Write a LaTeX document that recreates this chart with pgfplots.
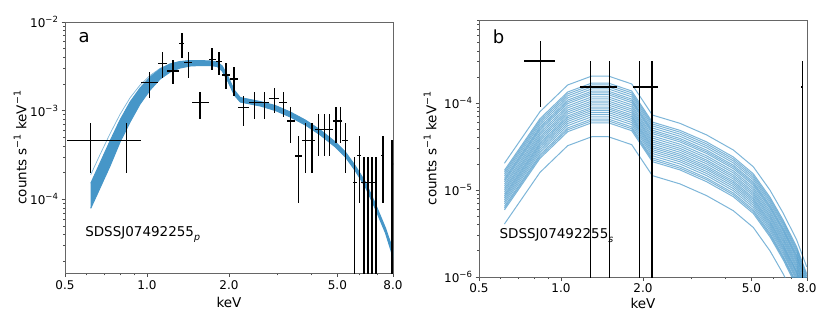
\documentclass[border=0pt]{standalone}
\usepackage{fontspec}
\setmainfont{DejaVu Sans}
\usepackage{pgfplots}
\usepackage{pgfplotstable}
\pgfplotsset{compat=1.18}
\definecolor{modelblue}{RGB}{70,150,200}

\newcommand{\supL}[1]{\raisebox{0.42em}{\fontsize{9.5}{10}\selectfont #1}}
\newcommand{\supT}[1]{\raisebox{0.42em}{\fontsize{8.5}{9}\selectfont #1}}
\newcommand{\subs}[1]{\raisebox{-0.25em}{\fontsize{9.5}{10}\selectfont\itshape #1}}

% panel a: spectrum points (x, y, x-, x+, y-, y+)
\pgfplotstableread{
x      y        xm     xp     ym        yp
0.6215 4.59e-4  0.113  0.1355 2.605e-4  2.68e-4
0.840  4.59e-4  0.083  0.111  2.605e-4  2.68e-4
1.0207 2.069e-3 0.0697 0.0753 0.689e-3  0.640e-3
1.1394 3.423e-3 0.0434 0.0463 1.105e-3  1.130e-3
1.2443 2.802e-3 0.0586 0.0683 0.818e-3  0.927e-3
1.3429 5.753e-3 0.0303 0.0299 1.794e-3  1.704e-3
1.4201 3.477e-3 0.0473 0.0489 1.159e-3  1.076e-3
1.568  1.231e-3 0.099  0.114  0.431e-3  0.406e-3
1.7305 3.797e-3 0.0485 0.0601 0.921e-3  1.255e-3
1.8366 3.568e-3 0.046  0.0472 1.042e-3  1.057e-3
1.9536 2.526e-3 0.0698 0.0673 0.770e-3  0.923e-3
2.0905 2.277e-3 0.0696 0.0675 0.813e-3  0.833e-3
2.2621 1.081e-3 0.1041 0.1117 0.409e-3  0.383e-3
2.4829 1.231e-3 0.1091 0.1226 0.431e-3  0.406e-3
2.702  1.231e-3 0.0965 0.110  0.431e-3  0.406e-3
2.934  1.366e-3 0.122  0.109  0.416e-3  0.450e-3
3.1655 1.231e-3 0.1225 0.1005 0.375e-3  0.406e-3
3.368  7.65e-4  0.102  0.116  3.36e-4   3.44e-4
3.594  3.086e-4 0.110  0.114  2.182e-4  2.104e-4
3.813  4.64e-4  0.105  0.131  2.67e-4   2.68e-4
4.036  4.64e-4  0.092  0.114  2.67e-4   2.68e-4
4.257  6.17e-4  0.107  0.136  3.084e-4  3.01e-4
4.479  6.17e-4  0.086  0.104  3.084e-4  3.01e-4
4.685  6.17e-4  0.102  0.12   3.084e-4  3.01e-4
4.945  7.65e-4  0.14   0.14   3.36e-4   3.28e-4
5.129  7.65e-4  0.044  0.088  3.36e-4   3.28e-4
5.351  4.64e-4  0.134  0.138  2.67e-4   2.63e-4
5.789  1.543e-4 0.097  0.134  1.533e-4  1.487e-4
6.024  3.11e-4  0.101  0.103  2.206e-4  2.08e-4
6.248  1.543e-4 0.121  0.107  1.533e-4  1.487e-4
6.463  1.543e-4 0.108  0.122  1.533e-4  1.487e-4
6.708  1.543e-4 0.123  0.103  1.533e-4  1.487e-4
6.916  1.543e-4 0.105  0.083  1.533e-4  1.487e-4
7.338  3.11e-4  0.111  0.107  2.206e-4  2.08e-4
7.95   2.51e-4  0.1    0.1    2.5e-4    2.16e-4
}\dataA

% panel a: model band outline, upper edge out and lower edge back
\pgfplotstableread{
x      y
0.6215 1.518e-4
0.6723 2.572e-4
0.7317 4.553e-4
0.7964 7.855e-4
0.8668 1.253e-3
0.9434 1.803e-3
1.0268 2.398e-3
1.1175 2.952e-3
1.2163 3.360e-3
1.3237 3.587e-3
1.4407 3.681e-3
1.568  3.681e-3
1.7066 3.634e-3
1.8107 3.539e-3
1.889  3.191e-3
1.9873 2.398e-3
2.0905 1.711e-3
2.1996 1.409e-3
2.3936 1.337e-3
2.6055 1.269e-3
2.9584 1.145e-3
3.3598 9.668e-4
3.813  7.855e-4
4.3298 6.057e-4
4.9161 4.437e-4
5.351  3.422e-4
5.824  2.379e-4
6.338  1.571e-4
6.898  8.875e-5
7.508  4.760e-5
8.0    2.689e-5
8.0    2.242e-5
7.508  4.179e-5
6.898  7.791e-5
6.338  1.380e-4
5.824  2.089e-4
5.351  3.006e-4
4.9161 3.897e-4
4.3298 5.320e-4
3.813  6.898e-4
3.3598 8.492e-4
2.9584 1.005e-3
2.6055 1.130e-3
2.3936 1.190e-3
2.1996 1.253e-3
2.0905 1.503e-3
1.9873 2.106e-3
1.889  2.802e-3
1.8107 3.150e-3
1.7066 3.232e-3
1.568  3.232e-3
1.4407 3.191e-3
1.3237 3.029e-3
1.2163 2.730e-3
1.1175 2.277e-3
1.0268 1.711e-3
0.9434 1.190e-3
0.8668 7.457e-4
0.7964 4.437e-4
0.7317 2.379e-4
0.6723 1.344e-4
0.6215 7.935e-5
}\bandA

\pgfplotstableread{
x      y
0.6215 1.9e-4
0.6723 3.2e-4
0.7317 5.5e-4
0.7964 9.1e-4
0.8668 1.4e-3
0.9434 1.95e-3
1.0268 2.5e-3
1.1175 3.0e-3
1.2163 3.38e-3
1.3237 3.6e-3
}\thinA

% panel b: spectrum points
\pgfplotstableread{
x      y       xm    xp    ym        yp
0.842  3.07e-4 0.111 0.109 2.17e-4   2.15e-4
1.2854 1.54e-4 0.111 0.105 1.539e-4  1.53e-4
1.5045 1.54e-4 0.114 0.105 1.539e-4  1.53e-4
1.945  1.54e-4 0.111 0.106 1.539e-4  1.53e-4
2.1582 1.54e-4 0.107 0.106 1.539e-4  1.53e-4
7.688  1.54e-4 0.06  0.06  1.539e-4  1.53e-4
}\dataB

% panel b: model curves
\pgfplotstableread{
x     l1      l2       l3       l4       l5       l6       l7       l8       l9       l10      l11      l12      l13
0.62  2.04e-5 1.693e-5 1.53e-5  1.367e-5 1.244e-5 1.112e-5 1.0e-5   8.98e-6  8.16e-6  7.34e-6  6.53e-6  5.92e-6  4.08e-6
0.837 8.00e-5 6.64e-5  6.00e-5  5.36e-5  4.88e-5  4.36e-5  3.92e-5  3.52e-5  3.20e-5  2.88e-5  2.56e-5  2.32e-5  1.60e-5
1.058 1.625e-4 1.349e-4 1.219e-4 1.089e-4 9.91e-5 8.86e-5  7.96e-5  7.15e-5  6.50e-5  5.85e-5  5.20e-5  4.71e-5  3.25e-5
1.297 2.06e-4 1.710e-4 1.545e-4 1.380e-4 1.257e-4 1.123e-4 1.009e-4 9.06e-5  8.24e-5  7.42e-5  6.59e-5  5.97e-5  4.12e-5
1.492 2.06e-4 1.710e-4 1.545e-4 1.380e-4 1.257e-4 1.123e-4 1.009e-4 9.06e-5  8.24e-5  7.42e-5  6.59e-5  5.97e-5  4.12e-5
1.818 1.67e-4 1.386e-4 1.253e-4 1.119e-4 1.019e-4 9.10e-5  8.18e-5  7.35e-5  6.68e-5  6.01e-5  5.34e-5  4.84e-5  3.34e-5
2.164 7.33e-5 6.08e-5  5.50e-5  4.91e-5  4.47e-5  3.99e-5  3.59e-5  3.23e-5  2.93e-5  2.64e-5  2.35e-5  2.13e-5  1.47e-5
2.734 5.88e-5 4.88e-5  4.41e-5  3.94e-5  3.59e-5  3.20e-5  2.88e-5  2.59e-5  2.35e-5  2.12e-5  1.88e-5  1.71e-5  1.18e-5
3.426 4.32e-5 3.59e-5  3.24e-5  2.89e-5  2.64e-5  2.35e-5  2.12e-5  1.90e-5  1.73e-5  1.555e-5 1.38e-5  1.25e-5  8.64e-6
4.291 2.90e-5 2.41e-5  2.175e-5 1.943e-5 1.769e-5 1.581e-5 1.421e-5 1.276e-5 1.16e-5  1.044e-5 9.28e-6  8.41e-6  5.80e-6
5.081 1.86e-5 1.544e-5 1.395e-5 1.246e-5 1.135e-5 1.014e-5 9.11e-6  8.18e-6  7.44e-6  6.70e-6  5.95e-6  5.39e-6  3.72e-6
5.851 1.00e-5 8.30e-6  7.50e-6  6.70e-6  6.10e-6  5.45e-6  4.90e-6  4.40e-6  4.00e-6  3.60e-6  3.20e-6  2.90e-6  2.00e-6
6.548 5.41e-6 4.49e-6  4.06e-6  3.62e-6  3.30e-6  2.95e-6  2.65e-6  2.38e-6  2.16e-6  1.95e-6  1.73e-6  1.57e-6  1.08e-6
7.334 2.67e-6 2.22e-6  2.00e-6  1.79e-6  1.63e-6  1.46e-6  1.31e-6  1.17e-6  1.07e-6  9.6e-7   8.5e-7   7.7e-7   5.3e-7
7.98  1.31e-6 1.09e-6  9.8e-7   8.8e-7   8.0e-7   7.1e-7   6.4e-7   5.8e-7   5.2e-7   4.7e-7   4.2e-7   3.8e-7   2.6e-7
}\modelB

% panel b: further model curves inside the bundle
\pgfplotstableread{
x     m1       m2       m3       m4       m5       m6       m7       m8       m9       m10
0.62  1.612e-5 1.448e-5 1.306e-5 1.173e-5 1.051e-5 9.49e-6  8.57e-6  7.75e-6  6.94e-6  6.22e-6
0.837 6.32e-5  5.68e-5  5.12e-5  4.60e-5  4.12e-5  3.72e-5  3.36e-5  3.04e-5  2.72e-5  2.44e-5
1.058 1.284e-4 1.154e-4 1.040e-4 9.34e-5  8.37e-5  7.56e-5  6.83e-5  6.18e-5  5.53e-5  4.96e-5
1.297 1.627e-4 1.463e-4 1.318e-4 1.185e-4 1.061e-4 9.58e-5  8.65e-5  7.83e-5  7.00e-5  6.28e-5
1.492 1.627e-4 1.463e-4 1.318e-4 1.185e-4 1.061e-4 9.58e-5  8.65e-5  7.83e-5  7.00e-5  6.28e-5
1.818 1.319e-4 1.186e-4 1.069e-4 9.60e-5  8.60e-5  7.77e-5  7.01e-5  6.35e-5  5.68e-5  5.09e-5
2.164 5.79e-5  5.20e-5  4.69e-5  4.21e-5  3.77e-5  3.41e-5  3.08e-5  2.79e-5  2.49e-5  2.24e-5
2.734 4.65e-5  4.17e-5  3.76e-5  3.38e-5  3.03e-5  2.73e-5  2.47e-5  2.23e-5  2.00e-5  1.79e-5
3.426 3.41e-5  3.07e-5  2.76e-5  2.48e-5  2.22e-5  2.01e-5  1.81e-5  1.64e-5  1.47e-5  1.32e-5
4.291 2.29e-5  2.06e-5  1.856e-5 1.668e-5 1.494e-5 1.349e-5 1.218e-5 1.102e-5 9.86e-6  8.85e-6
5.081 1.469e-5 1.321e-5 1.190e-5 1.070e-5 9.58e-6  8.65e-6  7.81e-6  7.07e-6  6.32e-6  5.67e-6
5.851 7.90e-6  7.10e-6  6.40e-6  5.75e-6  5.15e-6  4.65e-6  4.20e-6  3.80e-6  3.40e-6  3.05e-6
6.548 4.27e-6  3.84e-6  3.46e-6  3.11e-6  2.79e-6  2.52e-6  2.27e-6  2.06e-6  1.84e-6  1.65e-6
7.334 2.11e-6  1.90e-6  1.71e-6  1.54e-6  1.38e-6  1.24e-6  1.12e-6  1.01e-6  9.1e-7   8.1e-7
7.98  1.03e-6  9.3e-7   8.4e-7   7.5e-7   6.7e-7   6.1e-7   5.5e-7   5.0e-7   4.5e-7   4.0e-7
}\modelBb

\begin{document}
\begin{tikzpicture}
\useasboundingbox (0,0) rectangle (830pt,326pt);

\begin{axis}[at={(65pt,52.7pt)}, anchor=south west,
  scale only axis, width=328pt, height=251.3pt,
  xmode=log, ymode=log, xmin=0.5, xmax=8,
  ymin=1.47e-5, ymax=1e-2,
  xtick={0.5,1,2,5,8}, xticklabels={0.5,1.0,2.0,5.0,8.0},
  minor xtick={0.6,0.7,0.8,0.9,3,4,6,7},
  ytick={1e-4,1e-3,1e-2},
  yticklabels={10\supT{−4},10\supT{−3},10\supT{−2}},
  minor ytick={2e-5,3e-5,4e-5,5e-5,6e-5,7e-5,8e-5,9e-5,
    2e-4,3e-4,4e-4,5e-4,6e-4,7e-4,8e-4,9e-4,
    2e-3,3e-3,4e-3,5e-3,6e-3,7e-3,8e-3,9e-3},
  tick pos=left, tick align=outside,
  major tick length=3.5pt, minor tick length=2pt,
  tick style={black!70, line width=0.8pt},
  axis line style={black!60, line width=0.8pt},
  tick label style={font=\fontsize{12}{14}\selectfont},
  label style={font=\fontsize{13.5}{16}\selectfont},
  xlabel={keV},
  ylabel={counts s\supL{−1} keV\supL{−1}},
  xlabel style={at={(axis description cs:0.5,-0.138)}, anchor=base},
  ylabel style={at={(axis description cs:-0.137,0.5)}, anchor=center},
]
\addplot[fill=modelblue, draw=modelblue, line width=1pt] table[x=x, y=y] {\bandA};
\addplot[modelblue, opacity=0.7, line width=0.7pt] table[x=x, y=y] {\thinA};
\addplot[draw=none, mark=none,
  error bars/.cd, x dir=both, x explicit, y dir=both, y explicit,
  error mark=none, error bar style={draw=black, line width=1.5pt}]
  table[x=x, y=y, x error minus=xm, x error plus=xp,
  y error minus=ym, y error plus=yp] {\dataA};
\node[anchor=base west, font=\fontsize{18}{20}\selectfont] at (rel axis cs:0.0305,0.9177) {a};
\node[anchor=base west, font=\fontsize{13.5}{16}\selectfont] at (rel axis cs:0.051,0.1456) {SDSSJ07492255\subs{p}};
\end{axis}

\begin{axis}[at={(479pt,49pt)}, anchor=south west,
  scale only axis, width=328pt, height=257pt,
  xmode=log, ymode=log, xmin=0.5, xmax=8,
  ymin=1e-6, ymax=9.1e-4,
  xtick={0.5,1,2,5,8}, xticklabels={0.5,1.0,2.0,5.0,8.0},
  minor xtick={0.6,0.7,0.8,0.9,3,4,6,7},
  ytick={1e-6,1e-5,1e-4},
  yticklabels={10\supT{−6},10\supT{−5},10\supT{−4}},
  minor ytick={2e-6,3e-6,4e-6,5e-6,6e-6,7e-6,8e-6,9e-6,
    2e-5,3e-5,4e-5,5e-5,6e-5,7e-5,8e-5,9e-5,
    2e-4,3e-4,4e-4,5e-4,6e-4,7e-4,8e-4,9e-4},
  tick pos=left, tick align=outside,
  major tick length=3.5pt, minor tick length=2pt,
  tick style={black!70, line width=0.8pt},
  axis line style={black!60, line width=0.8pt},
  tick label style={font=\fontsize{12}{14}\selectfont},
  label style={font=\fontsize{13.5}{16}\selectfont},
  xlabel={keV},
  ylabel={counts s\supL{−1} keV\supL{−1}},
  xlabel style={at={(axis description cs:0.5,-0.1206)}, anchor=base},
  ylabel style={at={(axis description cs:-0.149,0.5)}, anchor=center},
]
\pgfplotsinvokeforeach{l1,l2,l3,l4,l5,l6,l7,l8,l9,l10,l11,l12,l13}{
  \addplot[modelblue, opacity=0.7, line width=1pt] table[x=x, y=#1] {\modelB};
}
\pgfplotsinvokeforeach{m1,m2,m3,m4,m5,m6,m7,m8,m9,m10}{
  \addplot[modelblue, opacity=0.7, line width=1pt] table[x=x, y=#1] {\modelBb};
}
\addplot[draw=none, mark=none,
  error bars/.cd, x dir=both, x explicit, y dir=both, y explicit,
  error mark=none, error bar style={draw=black, line width=1.5pt}]
  table[x=x, y=y, x error minus=xm, x error plus=xp,
  y error minus=ym, y error plus=yp] {\dataB};
\node[anchor=base west, font=\fontsize{18}{20}\selectfont] at (rel axis cs:0.0314,0.909) {b};
\node[anchor=base west, font=\fontsize{13.5}{16}\selectfont] at (rel axis cs:0.052,0.148) {SDSSJ07492255\subs{s}};
\end{axis}
\end{tikzpicture}
\end{document}
